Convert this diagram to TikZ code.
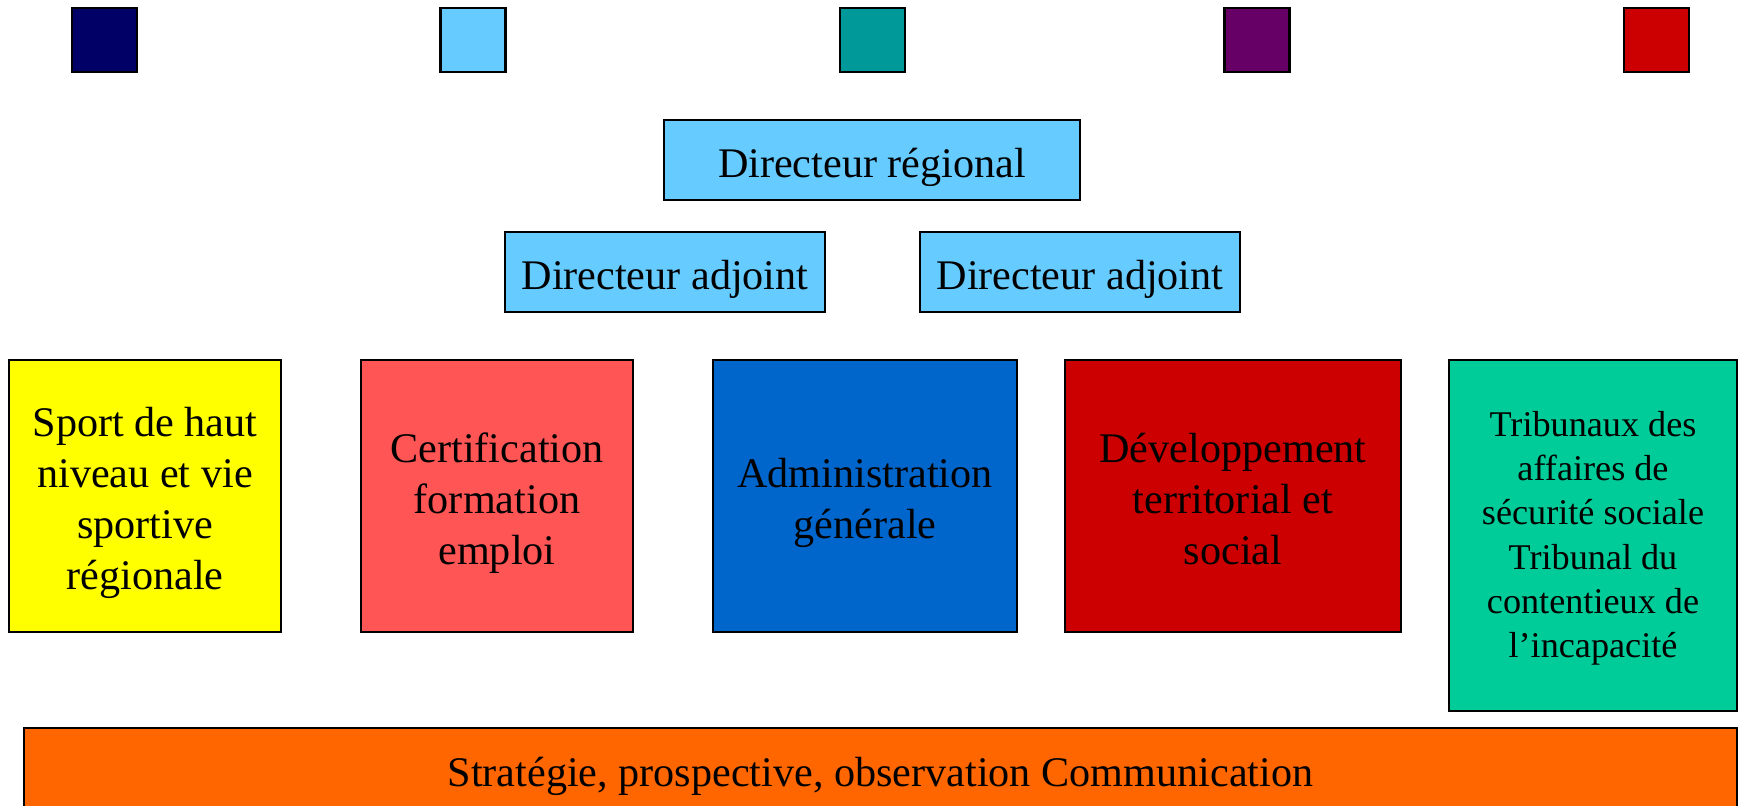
\documentclass[tikz,border=0pt]{standalone}
\usepackage{fontspec}
\setmainfont{Liberation Serif}
\usepackage{tikz}
\usepackage{xcolor}
\usetikzlibrary{shapes,positioning}
\definecolor{navy}{HTML}{000066}
\definecolor{ciel}{HTML}{66CCFF}
\definecolor{canard}{HTML}{009999}
\definecolor{prune}{HTML}{660066}
\definecolor{rouge}{HTML}{CC0000}
\definecolor{jaune}{HTML}{FFFF00}
\definecolor{saumon}{HTML}{FF5555}
\definecolor{bleu}{HTML}{0066CC}
\definecolor{menthe}{HTML}{00CC99}
\definecolor{orange}{HTML}{FF6600}
\newcommand{\haut}{\rule{0pt}{1.04em}}
\newcommand{\bas}{\rule[-0.22em]{0pt}{0pt}}
\tikzstyle{box} = [draw=black,line width=0.8pt,rectangle,align=center,inner sep=0pt,
    execute at begin node=\haut, execute at end node=\bas]
\tikzstyle{key} = [box,minimum width=0.65cm,minimum height=0.64cm]
\tikzstyle{chef} = [box,fill=ciel,minimum height=0.8cm]
\tikzstyle{pole} = [box,minimum height=2.72cm]

\begin{document}
\begin{tikzpicture}[
        every node/.style={font=\fontsize{12}{14.5}\selectfont}
        ]
        \useasboundingbox (0,0) rectangle (17.41,8.05);
        % legende
        \node[key,fill=navy] (keyA) at (1.045,7.65) {};
        \node[key,fill=ciel] (keyB) at (4.73,7.65) {};
        \node[key,fill=canard] (keyC) at (8.725,7.65) {};
        \node[key,fill=prune] (keyD) at (12.57,7.65) {};
        \node[key,fill=rouge] (keyE) at (16.565,7.65) {};
        % direction
        \node[chef,minimum width=4.16cm] (dirReg) at (8.72,6.45) {Directeur régional};
        \node[chef,minimum width=3.2cm] (dirAdjA) at (6.65,5.33) {Directeur adjoint};
        \node[chef,minimum width=3.2cm] (dirAdjB) at (10.80,5.33) {Directeur adjoint};
        % poles
        \node[pole,fill=jaune,minimum width=2.72cm] (sport) at (1.45,3.09)
            {\haut Sport de haut\\niveau et vie\\sportive\\régionale};
        \node[pole,fill=saumon,minimum width=2.72cm] (certif) at (4.97,3.09)
            {\haut Certification\\formation\\emploi};
        \node[pole,fill=bleu,minimum width=3.04cm] (admin) at (8.65,3.09)
            {\haut Administration\\générale};
        \node[pole,fill=rouge,minimum width=3.36cm] (devel) at (12.33,3.09)
            {\haut Développement\\territorial et\\social};
        \node[box,fill=menthe,minimum width=2.88cm,minimum height=3.51cm,
            font=\fontsize{10.3}{12.6}\selectfont] (tribunaux) at (15.93,2.695)
            {\rule{0pt}{0.85em}Tribunaux des\\affaires de\\sécurité sociale\\Tribunal du\\contentieux de\\l’incapacité};
        % transversal
        \node[box,fill=orange,minimum width=17.13cm,minimum height=0.82cm] (strategie) at (8.805,0.36)
            {Stratégie, prospective, observation Communication};
\end{tikzpicture}
\end{document}
